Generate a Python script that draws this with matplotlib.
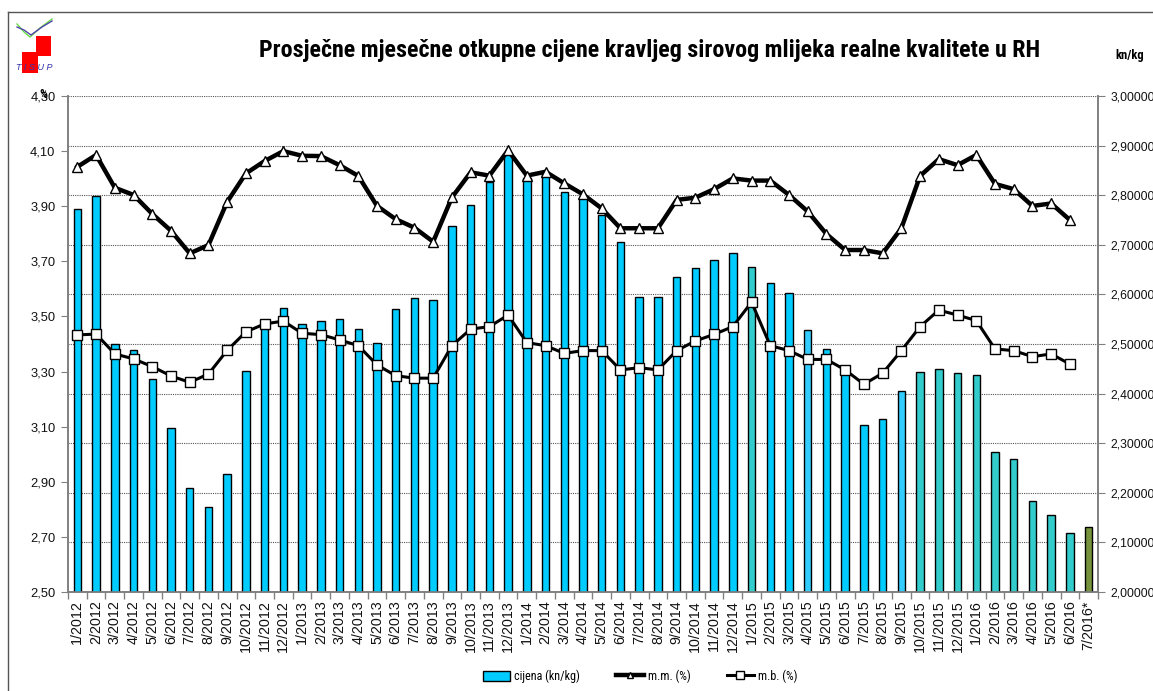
import matplotlib
matplotlib.use("Agg")
import matplotlib.pyplot as plt
from matplotlib import font_manager
from matplotlib.patches import Rectangle
from matplotlib.lines import Line2D
from matplotlib.ticker import FixedLocator, FuncFormatter
import numpy as np

# ---------------- data ----------------
months = ["1/2012", "2/2012", "3/2012", "4/2012", "5/2012", "6/2012", "7/2012", "8/2012",
          "9/2012", "10/2012", "11/2012", "12/2012", "1/2013", "2/2013", "3/2013", "4/2013",
          "5/2013", "6/2013", "7/2013", "8/2013", "9/2013", "10/2013", "11/2013", "12/2013",
          "1/2014", "2/2014", "3/2014", "4/2014", "5/2014", "6/2014", "7/2014", "8/2014",
          "9/2014", "10/2014", "11/2014", "12/2014", "1/2015", "2/2015", "3/2015", "4/2015",
          "5/2015", "6/2015", "7/2015", "8/2015", "9/2015", "10/2015", "11/2015", "12/2015",
          "1/2016", "2/2016", "3/2016", "4/2016", "5/2016", "6/2016", "7/2016*"]

cijena = [2.772, 2.798, 2.501, 2.488, 2.429, 2.331, 2.210, 2.171, 2.237, 2.446,
          2.545, 2.573, 2.540, 2.546, 2.550, 2.530, 2.503, 2.570, 2.593, 2.589,
          2.738, 2.780, 2.827, 2.884, 2.834, 2.847, 2.807, 2.795, 2.760, 2.705,
          2.594, 2.595, 2.636, 2.653, 2.669, 2.683, 2.656, 2.623, 2.603, 2.529,
          2.489, 2.451, 2.337, 2.348, 2.405, 2.443, 2.450, 2.441, 2.438, 2.282,
          2.269, 2.184, 2.155, 2.118, 2.131]

mm = [4.043, 4.086, 3.967, 3.941, 3.872, 3.811, 3.729, 3.759, 3.916, 4.019,
      4.064, 4.100, 4.083, 4.082, 4.049, 4.010, 3.901, 3.853, 3.822, 3.771,
      3.932, 4.023, 4.011, 4.103, 4.011, 4.025, 3.983, 3.943, 3.892, 3.820,
      3.820, 3.820, 3.923, 3.931, 3.962, 4.001, 3.993, 3.993, 3.941, 3.881,
      3.799, 3.741, 3.741, 3.729, 3.820, 4.010, 4.071, 4.049, 4.086, 3.981,
      3.962, 3.901, 3.910, 3.850]

mb = [3.433, 3.436, 3.364, 3.346, 3.318, 3.284, 3.261, 3.291, 3.377, 3.444,
      3.473, 3.483, 3.439, 3.434, 3.415, 3.394, 3.324, 3.285, 3.276, 3.276,
      3.394, 3.454, 3.463, 3.505, 3.405, 3.394, 3.366, 3.376, 3.376, 3.306,
      3.314, 3.306, 3.376, 3.411, 3.435, 3.463, 3.552, 3.394, 3.376, 3.344,
      3.344, 3.306, 3.254, 3.294, 3.376, 3.463, 3.523, 3.505, 3.485, 3.382,
      3.376, 3.354, 3.364, 3.327]

# bar colour groups (category indices)
teal_idx = [36, 45, 46, 47, 48, 49, 50, 51, 52, 53]
light_idx = [39, 44]
olive_idx = [54]

left_ticks = [2.50, 2.70, 2.90, 3.10, 3.30, 3.50, 3.70, 3.90, 4.10, 4.30]
right_ticks = [2.0, 2.1, 2.2, 2.3, 2.4, 2.5, 2.6, 2.7, 2.8, 2.9, 3.0]

title = "Prosječne mjesečne otkupne cijene kravljeg sirovog mlijeka realne kvalitete u RH"
legend_labels = ["cijena (kn/kg)", "m.m. (%)", "m.b. (%)"]

# ---------------- fonts ----------------
avail = {f.name for f in font_manager.fontManager.ttflist}
base_font = "Liberation Sans" if "Liberation Sans" in avail else "DejaVu Sans"
narrow_font = base_font
for cand in ["Liberation Sans Narrow", "Roboto Condensed", "Open Sans Condensed"]:
    if cand in avail:
        narrow_font = cand
        break
plt.rcParams["font.family"] = [base_font, "DejaVu Sans"]

W, H = 1153, 691
fig = plt.figure(figsize=(W / 100, H / 100), dpi=100)


def fx(x):
    return x / W


def fy(y):
    return 1 - y / H


L, R, T, B = 68, 1098, 96, 592
axr = fig.add_axes([fx(L), fy(B), fx(R) - fx(L), fy(T) - fy(B)])
axl = axr.twinx()
axl.yaxis.tick_left()
axl.yaxis.set_label_position("left")
axr.yaxis.tick_right()
axr.yaxis.set_label_position("right")
axl.set_zorder(axr.get_zorder() + 1)
axl.patch.set_visible(False)

x = np.arange(len(months))
colors = []
for i in range(len(months)):
    if i in olive_idx:
        colors.append("#77933C")
    elif i in teal_idx:
        colors.append("#33CCCC")
    elif i in light_idx:
        colors.append("#33CCFF")
    else:
        colors.append("#00CCFF")

axr.bar(x, np.array(cijena) - 2.0, bottom=2.0, width=0.4, color=colors,
        edgecolor="black", linewidth=1.0, zorder=3)
axr.set_ylim(2.0, 3.0)
axr.set_xlim(-0.5, len(months) - 0.5)
axr.yaxis.set_major_locator(FixedLocator(right_ticks))
axr.yaxis.set_major_formatter(FuncFormatter(lambda v, p: f"{v:.5f}".replace(".", ",")))
axr.grid(axis="y", color="#555555", linestyle=(0, (1, 1)), linewidth=0.8, zorder=0)
axr.set_axisbelow(True)

axl.plot(np.arange(len(mm)), mm, color="black", linewidth=3.2, marker="^", markersize=6.5,
         markerfacecolor="white", markeredgecolor="black", markeredgewidth=1.0, zorder=5)
axl.plot(np.arange(len(mb)), mb, color="black", linewidth=2.2, marker="s", markersize=7,
         markerfacecolor="white", markeredgecolor="black", markeredgewidth=1.0, zorder=5)
axl.set_ylim(2.5, 4.3)
axl.yaxis.set_major_locator(FixedLocator(left_ticks))
axl.yaxis.set_major_formatter(FuncFormatter(lambda v, p: f"{v:.2f}".replace(".", ",")))

# x axis
axr.set_xticks(x)
axr.set_xticklabels(months, rotation=90, fontsize=10.3, color="#111111")
axr.tick_params(axis="x", which="major", length=0, pad=6)
axr.set_xticks(np.arange(-0.5, len(months)), minor=True)
axr.tick_params(axis="x", which="minor", length=5, color="#808080", width=1)

for ax in (axl, axr):
    ax.spines["top"].set_visible(False)
    for s in ("left", "right", "bottom"):
        ax.spines[s].set_color("#808080")
        ax.spines[s].set_linewidth(1.2)
axl.tick_params(axis="y", length=5, color="#808080", labelsize=9.3, labelcolor="#111111", pad=4)
axr.tick_params(axis="y", length=5, color="#808080", labelsize=8.7, labelcolor="#111111", pad=4)

# title & unit labels
t = fig.text(fx(650), fy(50), title, ha="center", va="center", fontsize=16,
             fontweight="bold", family=[narrow_font, "DejaVu Sans"])
fig.canvas.draw()
w = t.get_window_extent().width
t.set_fontsize(16 * 780.0 / w)

fig.text(fx(1130), fy(55), "kn/kg", ha="center", va="center", fontsize=9,
         fontweight="bold", family=[narrow_font, "DejaVu Sans"])
fig.text(fx(43), fy(94), "%", ha="center", va="center", fontsize=9,
         fontweight="bold", family=[narrow_font, "DejaVu Sans"])

# outer frame
fig.add_artist(Line2D([fx(8), fx(1153)], [fy(12), fy(12)], color="#555555", lw=1))
fig.add_artist(Line2D([fx(8), fx(8)], [fy(12), fy(691)], color="#555555", lw=1))

# simple logo
fig.add_artist(Rectangle((fx(36), fy(56)), fx(15), fy(36) - fy(56), color="#FF0000", lw=0))
fig.add_artist(Rectangle((fx(22), fy(73)), fx(16), fy(52) - fy(73), color="#FF0000", lw=0))
fig.add_artist(Line2D([fx(17), fx(24), fx(30), fx(40), fx(52)],
                      [fy(24), fy(32), fy(37), fy(28), fy(19)], color="#66DD44", lw=1))
fig.add_artist(Line2D([fx(17), fx(24), fx(31), fx(42), fx(52)],
                      [fy(27), fy(30), fy(35), fy(27), fy(21)], color="#5544AA", lw=1))
fig.text(fx(34), fy(67), "T I S U P", ha="center", va="center", fontsize=6.5,
         style="italic", color="#3333AA")

# legend
handles = [
    Rectangle((0, 0), 1, 1, facecolor="#00CCFF", edgecolor="black", lw=1),
    Line2D([], [], color="black", lw=3.2, marker="^", markersize=5,
           markerfacecolor="white", markeredgecolor="black"),
    Line2D([], [], color="black", lw=2.2, marker="s", markersize=6,
           markerfacecolor="white", markeredgecolor="black"),
]
fig.legend(handles, legend_labels, loc="center",
           bbox_to_anchor=(fx(640), fy(676)), ncol=3, frameon=False,
           prop={"family": [narrow_font, "DejaVu Sans"], "size": 8.7},
           handlelength=2.3, handleheight=0.9, handletextpad=0.3, columnspacing=3.0)

fig.savefig("out.png", dpi=100)
